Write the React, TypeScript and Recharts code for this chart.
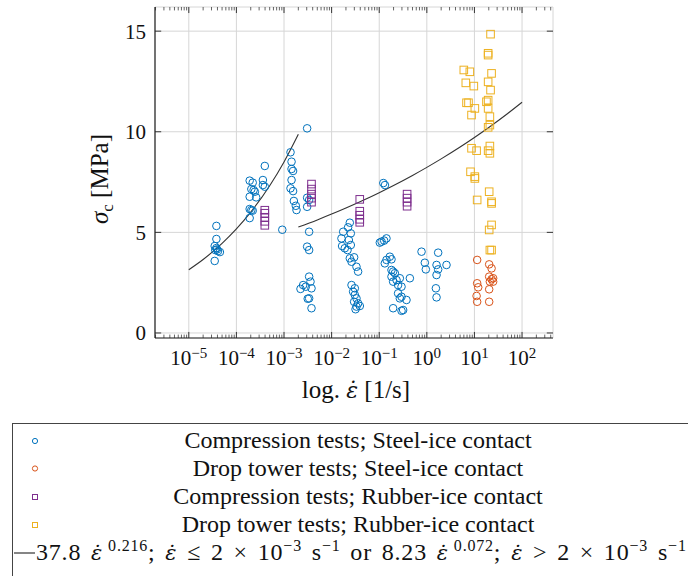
import React from "react";
import { ComposedChart, Scatter, Line, XAxis, YAxis, CartesianGrid, ReferenceLine } from "recharts";

// axis ranges (log x)
const X_MIN = 1.95e-6;
const X_MAX = 447;
const Y_MIN = -0.25;
const Y_MAX = 16.2;

const X_TICKS = [1e-5, 1e-4, 1e-3, 1e-2, 1e-1, 1, 10, 100];
const X_TICK_EXP = ["−5", "−4", "−3", "−2", "−1", "0", "1", "2"];
const Y_TICKS = [0, 5, 10, 15];
const X_MINOR = [1e-6, 1e-5, 1e-4, 1e-3, 1e-2, 1e-1, 1, 10, 100]
  .flatMap((d) => [2, 3, 4, 5, 6, 7, 8, 9].map((m) => m * d))
  .filter((v) => v > X_MIN && v < X_MAX);

// strain rate [1/s], sigma_c [MPa]
const compSteel: [number, number][] = [
  [3.8e-5, 5.32], [3.8e-5, 4.67], [3.5e-5, 4.32], [3.8e-5, 4.22], [4.1e-5, 4.07],
  [3.6e-5, 4.12], [4.5e-5, 4.02], [3.5e-5, 3.58], [3.9e-5, 4.15],
  [1.9e-4, 7.57], [2.2e-4, 7.47], [3.6e-4, 7.6], [3.95e-4, 8.3], [2.06e-4, 7.15],
  [2.3e-4, 7.1], [2.44e-4, 7.02], [3.6e-4, 7.35], [3.95e-4, 7.27], [1.9e-4, 6.77],
  [2.6e-4, 6.74], [1.9e-4, 6.16], [2.06e-4, 6.11], [2.2e-4, 6.08], [1.9e-4, 5.71],
  [9.2e-4, 5.13], [3.06e-3, 10.17], [1.37e-3, 8.98], [1.44e-3, 8.51], [1.44e-3, 8.15],
  [1.55e-3, 8.05], [1.44e-3, 7.6], [1.37e-3, 7.19], [1.55e-3, 7.05], [1.61e-3, 6.56],
  [1.77e-3, 6.32], [1.83e-3, 6.11], [3.06e-3, 6.72], [3.37e-3, 6.61], [3.06e-3, 6.27],
  [3.37e-3, 5.03], [3.06e-3, 4.29], [3.37e-3, 4.12], [3.37e-3, 2.8], [3.6e-3, 2.55],
  [2.52e-3, 2.38], [2.22e-3, 2.19], [2.87e-3, 2.3], [3.78e-3, 2.22], [3.37e-3, 1.72],
  [3.15e-3, 1.7], [3.78e-3, 1.23],
  [0.0241, 5.48], [0.0222, 5.25], [0.0175, 5.03], [0.0253, 4.95], [0.0161, 4.7],
  [0.023, 4.62], [0.0166, 4.32], [0.0189, 4.21], [0.0216, 4.12], [0.0253, 4.37],
  [0.0241, 3.71], [0.0297, 3.76], [0.0262, 3.54], [0.0333, 3.29], [0.036, 3.05],
  [0.0262, 2.38], [0.0307, 2.22], [0.0283, 2.05], [0.0307, 1.89], [0.0333, 1.72],
  [0.0297, 1.55], [0.036, 1.47], [0.0333, 1.31], [0.0318, 1.18], [0.0391, 1.34],
  [0.122, 7.45], [0.132, 7.35], [0.112, 4.54], [0.127, 4.59], [0.142, 4.7],
  [0.103, 4.49], [0.142, 3.63], [0.167, 3.79], [0.181, 3.66], [0.131, 3.46],
  [0.196, 3.05], [0.181, 3.13], [0.213, 2.97], [0.181, 2.8], [0.231, 2.63],
  [0.271, 2.72], [0.44, 2.72], [0.196, 2.55], [0.249, 2.38], [0.294, 2.3],
  [0.249, 1.97], [0.294, 1.8], [0.374, 1.64], [0.271, 1.72], [0.196, 1.23],
  [0.294, 1.1], [0.318, 1.14],
  [0.774, 4.04], [1.73, 3.99], [0.908, 3.49], [0.953, 3.16], [1.6, 3.38],
  [2.59, 3.38], [1.73, 3.16], [1.6, 2.88], [1.55, 2.22], [1.6, 1.77],
];

const dropSteel: [number, number][] = [
  [11.4, 3.63], [20.4, 3.41], [22.9, 3.21], [20.4, 2.8], [22.9, 2.67], [24.7, 2.72],
  [21.1, 2.55], [24.7, 2.55], [11.4, 2.47], [12.0, 2.27], [20.4, 2.17], [11.1, 1.84],
  [11.4, 1.55], [20.4, 1.55],
];

const compRubber: [number, number][] = [
  [3.95e-4, 6.1], [3.95e-4, 5.95], [3.95e-4, 5.75], [3.95e-4, 5.55], [3.95e-4, 5.35],
  [3.78e-3, 7.4], [3.78e-3, 7.15], [3.78e-3, 6.9], [3.78e-3, 6.7], [3.78e-3, 6.5],
  [0.039, 6.64], [0.039, 6.05], [0.039, 5.85], [0.039, 5.65], [0.039, 5.5],
  [0.385, 6.9], [0.385, 6.7], [0.385, 6.5], [0.385, 6.3],
];

const dropRubber: [number, number][] = [
  [21.8, 14.85], [19.4, 13.9], [19.4, 13.81], [5.98, 13.07], [8.0, 12.98], [22.9, 12.9],
  [6.59, 12.43], [9.71, 12.27], [19.4, 12.48], [21.8, 12.07], [19.4, 11.57], [17.9, 11.49],
  [6.82, 11.44], [7.5, 11.44], [19.4, 11.16], [10.2, 11.16], [8.69, 10.83], [21.1, 10.75],
  [21.1, 10.33], [19.4, 10.22], [8.69, 9.18], [11.1, 9.06], [21.1, 9.29], [19.4, 9.06],
  [21.1, 8.93], [8.28, 8.01], [10.2, 7.77], [10.2, 7.68], [20.4, 7.02], [11.4, 6.61],
  [22.9, 6.52], [22.9, 6.44], [22.9, 5.37], [20.4, 5.12], [21.1, 4.12], [22.9, 4.12],
];

// power-law fit from the legend: a * rate^b, split at 2e-3 1/s
const FIT_LOW = { a: 37.8, b: 0.216 };
const FIT_HIGH = { a: 8.23, b: 0.072 };
const FIT_LOW_X = [1e-5, 2e-5, 5e-5, 1e-4, 2e-4, 5e-4, 1e-3, 2e-3];
const FIT_HIGH_X = [2e-3, 5e-3, 1e-2, 2e-2, 5e-2, 0.1, 0.2, 0.5, 1, 2, 5, 10, 20, 50, 100];

const toPts = (arr: [number, number][]) => arr.map(([x, y]) => ({ x, y }));
const fitPts = (xs: number[], f: { a: number; b: number }) =>
  xs.map((x) => ({ x, y: f.a * Math.pow(x, f.b) }));

const BLUE = "#0072BD";
const ORANGE = "#D95319";
const PURPLE = "#7E2F8E";
const YELLOW = "#EDB120";

// plot box in page pixels
const PLOT_LEFT = 155;
const PLOT_RIGHT = 553;
const PLOT_TOP = 7;
const PLOT_BOTTOM = 338;
const CHART_W = 688;
const CHART_H = 420;

// tick lengths in data units (about 20 px per MPa, 48 px per decade)
const X_MAJOR_LEN = 0.3;
const X_MINOR_LEN = 0.17;
const Y_TICK_LEN = 0.13; // decades

const FONT = "'Liberation Serif', 'Times New Roman', serif";
const EPS_FONT = "'DejaVu Serif', serif";
const AXIS = "#222";

const circle = (color: string) => (p: any) =>
  <circle cx={p.cx} cy={p.cy} r={3.8} fill="none" stroke={color} strokeWidth={1} />;
const square = (color: string) => (p: any) =>
  <rect x={p.cx - 3.8} y={p.cy - 3.8} width={7.6} height={7.6} fill="none" stroke={color} strokeWidth={1} />;

const XTick = (p: any) => {
  const i = X_TICKS.indexOf(p.payload.value);
  return (
    <text x={p.x} y={365} textAnchor="middle" fontFamily={FONT} fontSize={21} fill="#111">
      <tspan>10</tspan>
      <tspan dy={-7} fontSize={15}>{X_TICK_EXP[i]}</tspan>
    </text>
  );
};

const YTick = (p: any) => (
  <text x={PLOT_LEFT - 9} y={p.y + 7.5} textAnchor="end" fontFamily={FONT} fontSize={21} fill="#111">
    {p.payload.value}
  </text>
);

const tickSeg = (key: string, a: { x: number; y: number }, b: { x: number; y: number }, w: number) => (
  <ReferenceLine key={key} xAxisId="x" yAxisId="y" segment={[a, b]} stroke={AXIS} strokeWidth={w} ifOverflow="visible" />
);

const LEGEND_ROWS = [
  { label: "Compression tests; Steel-ice contact", color: BLUE, kind: "circle" },
  { label: "Drop tower tests; Steel-ice contact", color: ORANGE, kind: "circle" },
  { label: "Compression tests; Rubber-ice contact", color: PURPLE, kind: "square" },
  { label: "Drop tower tests; Rubber-ice contact", color: YELLOW, kind: "square" },
];

type Seg = { t: string; sup?: boolean; eps?: boolean };
const FIT_LABEL: Seg[] = [
  { t: "37.8 " }, { t: "ε̇", eps: true }, { t: "0.216", sup: true },
  { t: "; " }, { t: "ε̇", eps: true }, { t: " ≤ 2 × 10" }, { t: "−3", sup: true },
  { t: " s" }, { t: "−1", sup: true }, { t: " or 8.23 " }, { t: "ε̇", eps: true },
  { t: "0.072", sup: true }, { t: "; " }, { t: "ε̇", eps: true }, { t: " > 2 × 10" },
  { t: "−3", sup: true }, { t: " s" }, { t: "−1", sup: true },
];

function renderSegs(segs: Seg[]) {
  let up = false;
  return segs.map((s, i) => {
    const dy = s.sup && !up ? -9 : !s.sup && up ? 9 : 0;
    up = !!s.sup;
    return (
      <tspan
        key={i}
        dy={dy || undefined}
        dx={s.sup && segs[i - 1]?.eps ? 5 : undefined}
        fontSize={s.sup ? 16 : s.eps ? 21 : undefined}
        fontFamily={s.eps ? EPS_FONT : undefined}
        fontStyle={s.eps ? "italic" : undefined}
      >
        {s.t}
      </tspan>
    );
  });
}

function Overlay() {
  const rowY = [441, 468.5, 497, 525, 553];
  return (
    <svg width={688} height={576} style={{ position: "absolute", left: 0, top: 0, pointerEvents: "none" }}>
      {/* axis titles */}
      <text transform="translate(108,179) rotate(-90)" textAnchor="middle" fontFamily={FONT} fontSize={25} fill="#111">
        <tspan fontStyle="italic">σ</tspan>
        <tspan dy={5} fontSize={17}>c</tspan>
        <tspan dy={-5}> [MPa]</tspan>
      </text>
      <text x={356} y={398} textAnchor="middle" fontFamily={FONT} fontSize={25} fill="#111">
        <tspan>log. </tspan>
        <tspan fontFamily={EPS_FONT} fontStyle="italic" fontSize={22}>ε̇</tspan>
        <tspan> [1/s]</tspan>
      </text>

      {/* legend */}
      <rect x={12.5} y={423.5} width={700} height={200} fill="#fff" stroke="#444" strokeWidth={1} />
      {LEGEND_ROWS.map((r, i) => (
        <g key={r.label}>
          {r.kind === "circle" ? (
            <circle cx={35} cy={rowY[i]} r={2.6} fill="none" stroke={r.color} strokeWidth={1} />
          ) : (
            <rect x={32.5} y={rowY[i] - 2.5} width={5} height={5} fill="none" stroke={r.color} strokeWidth={1} />
          )}
          <text x={358} y={rowY[i] + 7} textAnchor="middle" fontFamily={FONT} fontSize={24} fill="#111">
            {r.label}
          </text>
        </g>
      ))}
      <line x1={14} x2={35} y1={rowY[4]} y2={rowY[4]} stroke="#333" strokeWidth={1.2} />
      <text x={36} y={rowY[4] + 7} fontFamily={FONT} fontSize={24} fill="#111" wordSpacing={3} letterSpacing={0.8}>
        {renderSegs(FIT_LABEL)}
      </text>
    </svg>
  );
}

export default function App() {
  return (
    <div style={{ position: "absolute", left: 0, top: 0, width: 688, height: 576, overflow: "hidden", background: "#fff" }}>
      <ComposedChart
        width={CHART_W}
        height={CHART_H}
        margin={{ top: PLOT_TOP, right: CHART_W - PLOT_RIGHT, bottom: 0, left: 0 }}
      >
        <CartesianGrid xAxisId="x" yAxisId="y" stroke="#d6d6d6" strokeWidth={1} />
        <XAxis
          xAxisId="x"
          dataKey="x"
          type="number"
          scale="log"
          domain={[X_MIN, X_MAX]}
          allowDataOverflow
          ticks={X_TICKS}
          interval={0}
          height={CHART_H - PLOT_BOTTOM}
          tickLine={false}
          axisLine={{ stroke: AXIS, strokeWidth: 1.2 }}
          tick={XTick}
        />
        <XAxis
          xAxisId="top"
          orientation="top"
          dataKey="x"
          type="number"
          scale="log"
          domain={[X_MIN, X_MAX]}
          allowDataOverflow
          height={0}
          tick={false}
          tickLine={false}
          axisLine={{ stroke: AXIS, strokeWidth: 1.2 }}
        />
        <YAxis
          yAxisId="y"
          type="number"
          domain={[Y_MIN, Y_MAX]}
          allowDataOverflow
          ticks={Y_TICKS}
          interval={0}
          width={PLOT_LEFT}
          tickLine={false}
          axisLine={{ stroke: AXIS, strokeWidth: 1.2 }}
          tick={YTick}
        />
        <YAxis
          yAxisId="right"
          orientation="right"
          type="number"
          domain={[Y_MIN, Y_MAX]}
          width={0}
          tick={false}
          tickLine={false}
          axisLine={{ stroke: AXIS, strokeWidth: 1.2 }}
        />

        {/* inward ticks on all four sides */}
        {X_MINOR.map((v) => tickSeg(`mb${v}`, { x: v, y: Y_MIN }, { x: v, y: Y_MIN + X_MINOR_LEN }, 0.7))}
        {X_MINOR.map((v) => tickSeg(`mt${v}`, { x: v, y: Y_MAX }, { x: v, y: Y_MAX - X_MINOR_LEN }, 0.7))}
        {X_TICKS.map((v) => tickSeg(`Mb${v}`, { x: v, y: Y_MIN }, { x: v, y: Y_MIN + X_MAJOR_LEN }, 0.9))}
        {X_TICKS.map((v) => tickSeg(`Mt${v}`, { x: v, y: Y_MAX }, { x: v, y: Y_MAX - X_MAJOR_LEN }, 0.9))}
        {Y_TICKS.map((v) =>
          tickSeg(`yl${v}`, { x: X_MIN, y: v }, { x: X_MIN * Math.pow(10, Y_TICK_LEN), y: v }, 0.9)
        )}
        {Y_TICKS.map((v) =>
          tickSeg(`yr${v}`, { x: X_MAX, y: v }, { x: X_MAX / Math.pow(10, Y_TICK_LEN), y: v }, 0.9)
        )}

        <Line xAxisId="x" yAxisId="y" data={fitPts(FIT_LOW_X, FIT_LOW)} dataKey="y" type="monotone"
          stroke="#333" strokeWidth={1.1} dot={false} isAnimationActive={false} />
        <Line xAxisId="x" yAxisId="y" data={fitPts(FIT_HIGH_X, FIT_HIGH)} dataKey="y" type="monotone"
          stroke="#333" strokeWidth={1.1} dot={false} isAnimationActive={false} />
        <Scatter xAxisId="x" yAxisId="y" data={toPts(compSteel)} dataKey="y" shape={circle(BLUE)} isAnimationActive={false} />
        <Scatter xAxisId="x" yAxisId="y" data={toPts(dropSteel)} dataKey="y" shape={circle(ORANGE)} isAnimationActive={false} />
        <Scatter xAxisId="x" yAxisId="y" data={toPts(compRubber)} dataKey="y" shape={square(PURPLE)} isAnimationActive={false} />
        <Scatter xAxisId="x" yAxisId="y" data={toPts(dropRubber)} dataKey="y" shape={square(YELLOW)} isAnimationActive={false} />
      </ComposedChart>
      <Overlay />
    </div>
  );
}
